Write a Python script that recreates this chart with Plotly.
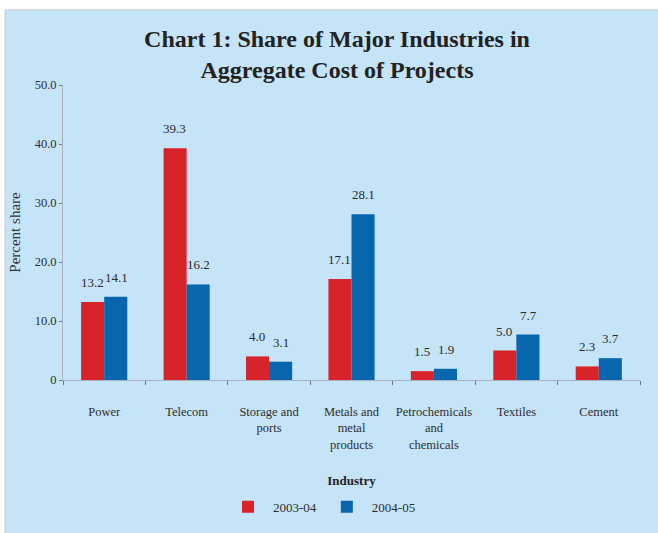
import plotly.graph_objects as go

categories = ["Power", "Telecom", "Storage and<br>ports", "Metals and<br>metal<br>products",
              "Petrochemicals<br>and<br>chemicals", "Textiles", "Cement"]
series_names = ["2003-04", "2004-05"]
values_0304 = [13.2, 39.3, 4.0, 17.1, 1.5, 5.0, 2.3]
values_0405 = [14.1, 16.2, 3.1, 28.1, 1.9, 7.7, 3.7]
y_ticks = [0, 10, 20, 30, 40, 50]
y_ticktext = ["0", "10.0", "20.0", "30.0", "40.0", "50.0"]

RED = "#d8232b"
BLUE = "#0766ad"
BG = "#c6e4f8"
SERIF = "Liberation Serif, Times New Roman, serif"

fig = go.Figure()
fig.add_trace(go.Bar(x=categories, y=values_0304, name=series_names[0], marker_color=RED,
                     marker_line_width=0))
fig.add_trace(go.Bar(x=categories, y=values_0405, name=series_names[1], marker_color=BLUE,
                     marker_line_width=0))

annotations = []
for vals, shift in [(values_0304, -12), (values_0405, 12)]:
    for c, v in zip(categories, vals):
        annotations.append(dict(x=c, y=v, text=f"{v:.1f}", showarrow=False, xref="x", yref="y",
                                xshift=shift, yshift=10, yanchor="bottom",
                                font=dict(family=SERIF, size=13, color="#2a2a2a")))

W, H = 658, 533
ml, mr, mt, mb = 63, 18, 85, 150
pw, ph = W - ml - mr, H - mt - mb

def px_x(p):
    return (p - ml) / pw

def px_y(p):
    return (H - mb - p) / ph

shapes = [
    dict(type="rect", xref="paper", yref="paper", x0=px_x(-2), x1=px_x(5), y0=px_y(H + 5), y1=px_y(-5),
         fillcolor="white", line_width=0, layer="below"),
    dict(type="rect", xref="paper", yref="paper", x0=px_x(-2), x1=px_x(W + 5), y0=px_y(9), y1=px_y(-5),
         fillcolor="white", line_width=0, layer="below"),
    dict(type="line", xref="paper", yref="paper", x0=px_x(5), x1=px_x(5), y0=px_y(9), y1=px_y(H + 5),
         line=dict(color="#c9c9c9", width=1), layer="below"),
    dict(type="line", xref="paper", yref="paper", x0=px_x(5), x1=px_x(W + 5), y0=px_y(9), y1=px_y(9),
         line=dict(color="#d0d0d0", width=1), layer="below"),
]

fig.update_layout(
    width=W, height=H,
    margin=dict(l=ml, r=mr, t=mt, b=mb),
    paper_bgcolor=BG, plot_bgcolor=BG,
    barmode="group", bargap=0.44, bargroupgap=0,
    title=dict(text="<b>Chart 1: Share of Major Industries in<br>Aggregate Cost of Projects</b>",
               xref="container", yref="container", x=337 / W, xanchor="center",
               y=1 - 47 / H, yanchor="middle",
               font=dict(family=SERIF, size=24, color="#222222")),
    xaxis=dict(showgrid=False, showline=True, linecolor="#a8b4bc", linewidth=1,
               ticks="outside", tickson="boundaries", ticklen=4, tickcolor="#777777",
               tickangle=0,
               tickfont=dict(family=SERIF, size=12.5, color="#2e2e2e"), ticklabelstandoff=20,
               title=dict(text="<b>Industry</b>", font=dict(family=SERIF, size=13, color="#222222"),
                          standoff=25)),
    yaxis=dict(range=[0, 50], tickvals=y_ticks, ticktext=y_ticktext, showgrid=False,
               showline=True, linecolor="#a8b4bc", linewidth=1, ticks="outside", ticklen=3,
               tickcolor="#777777", zeroline=False,
               tickfont=dict(family=SERIF, size=12.5, color="#2e2e2e"),
               title=dict(text="Percent share", font=dict(family=SERIF, size=15, color="#333333"),
                          standoff=10)),
    legend=dict(orientation="h", x=px_x(322), xanchor="center", y=px_y(511), yanchor="middle",
                font=dict(family=SERIF, size=13, color="#2e2e2e"), bgcolor="rgba(0,0,0,0)",
                itemwidth=40, tracegroupgap=0),
    annotations=annotations,
    shapes=shapes,
    showlegend=True,
)

fig.write_html("out.html")
